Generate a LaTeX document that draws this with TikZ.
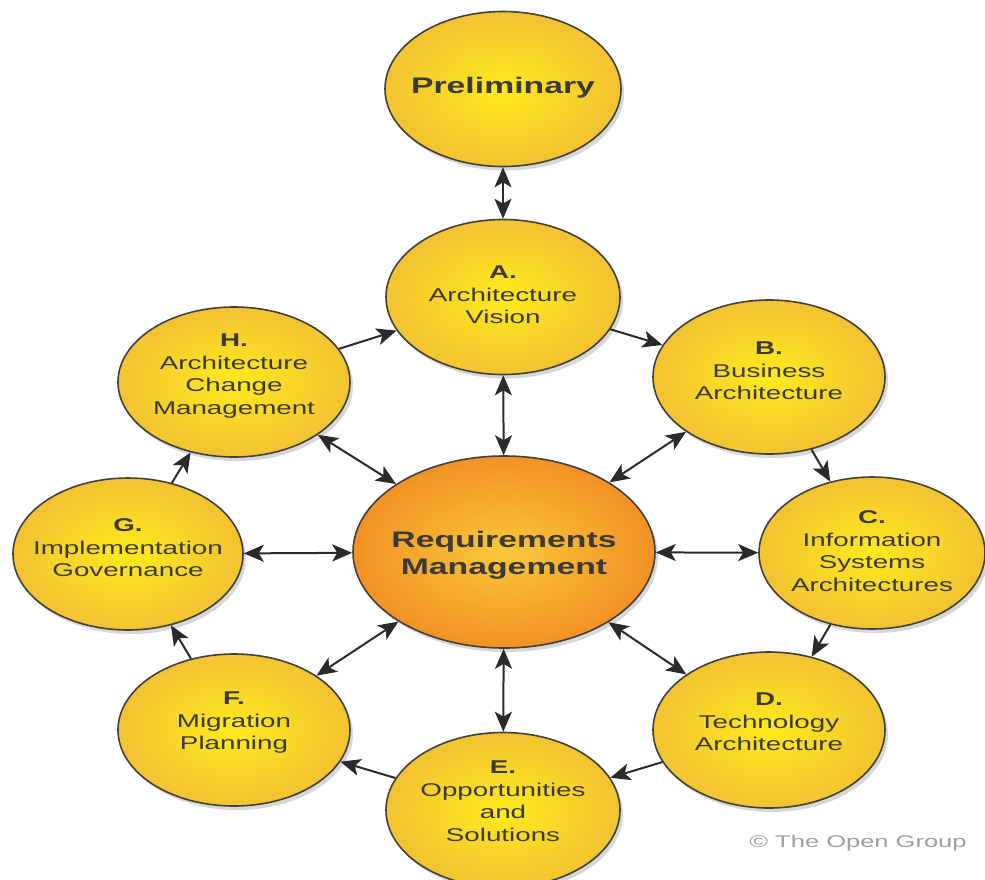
\documentclass[tikz,border=0pt]{standalone}
\usepackage{fontspec}
\setmainfont{Liberation Sans}[FakeStretch=1.5]
\usetikzlibrary{arrows.meta,shapes.geometric,shadows}
\definecolor{ylin}{HTML}{FFEA1C}
\definecolor{ylout}{HTML}{F2C332}
\definecolor{orin}{HTML}{FAC83A}
\definecolor{orout}{HTML}{F29224}
\definecolor{bord}{HTML}{404040}
\definecolor{txt}{HTML}{3A3A3A}
\definecolor{arr}{HTML}{2A2A2A}
\definecolor{cpy}{HTML}{A0A0A0}
\begin{document}
\begin{tikzpicture}[x=1pt,y=-1pt,
  phase/.style={ellipse, draw=bord, line width=1.6pt, inner color=ylin, outer color=ylout,
    minimum width=232pt, minimum height=154pt, inner sep=0pt,
    drop shadow={shadow xshift=3pt, shadow yshift=-4pt, opacity=0.22, fill=black!70}},
  core/.style={phase, inner color=orin, outer color=orout, minimum width=302pt, minimum height=192pt},
  lbl/.style={align=center, text=txt, font=\fontsize{18.5}{22.5}\selectfont, inner sep=0pt},
  big/.style={align=center, text=txt, font=\bfseries\fontsize{22.5}{27}\selectfont, inner sep=0pt},
  >={Stealth[length=20pt,width=17pt,inset=5pt]},
  one/.style={draw=arr, line width=2pt, ->},
  two/.style={draw=arr, line width=2pt, <->},
]
\path[use as bounding box, fill=white] (0,0) rectangle (985,879);

% ellipses
\node[phase, minimum width=236pt, minimum height=155pt] (pre) at (503,89) {};
\node[phase, minimum width=234pt, minimum height=155pt] (A) at (503,297) {};
\node[phase] (B) at (769,377) {};
\node[phase, minimum width=226pt, minimum height=152pt] (C) at (872,553) {};
\node[phase, minimum height=156pt] (D) at (769,730) {};
\node[phase, minimum width=234pt, minimum height=155pt] (E) at (503,810) {};
\node[phase, minimum height=152pt] (F) at (234,730) {};
\node[phase, minimum width=230pt, minimum height=152pt] (G) at (128,554) {};
\node[phase, minimum height=150pt] (H) at (234,382) {};
\node[core] (RM) at (504,552) {};

% cycle arrows
\draw[two] (pre) -- (A);
\draw[one] (A) -- (B);
\draw[one] (B) -- (C);
\draw[one] (C) -- (D);
\draw[one] (D) -- (E);
\draw[one] (E) -- (F);
\draw[one] (F) -- (G);
\draw[one] (G) -- (H);
\draw[one] (H) -- (A);

% requirements arrows
\draw[two] (RM) -- (A);
\draw[two] (RM) -- (B);
\draw[two] (RM) -- (C);
\draw[two] (RM) -- (D);
\draw[two] (RM) -- (E);
\draw[two] (RM) -- (F);
\draw[two] (RM) -- (G);
\draw[two] (RM) -- (H);

% texts
\node[big] (tpre) at (503,88) {Preliminary};
\node[big] (tRM) at (504,555) {Requirements\\Management};
\node[lbl] (tA) at (503,295) {\textbf{A.}\\Architecture\\Vision};
\node[lbl] (tB) at (769,371) {\textbf{B.}\\Business\\Architecture};
\node[lbl] (tC) at (872,551) {\textbf{C.}\\Information\\Systems\\Architectures};
\node[lbl] (tD) at (769,722) {\textbf{D.}\\Technology\\Architecture};
\node[lbl] (tE) at (503,801) {\textbf{E.}\\Opportunities\\and\\Solutions};
\node[lbl] (tF) at (234,723) {\textbf{F.}\\Migration\\Planning};
\node[lbl] (tG) at (128,548) {\textbf{G.}\\Implementation\\Governance};
\node[lbl] (tH) at (234,376) {\textbf{H.}\\Architecture\\Change\\Management};
\node[text=cpy, font=\fontsize{17}{20}\selectfont, inner sep=0pt] (copy) at (858,843) {© The Open Group};
\end{tikzpicture}
\end{document}
